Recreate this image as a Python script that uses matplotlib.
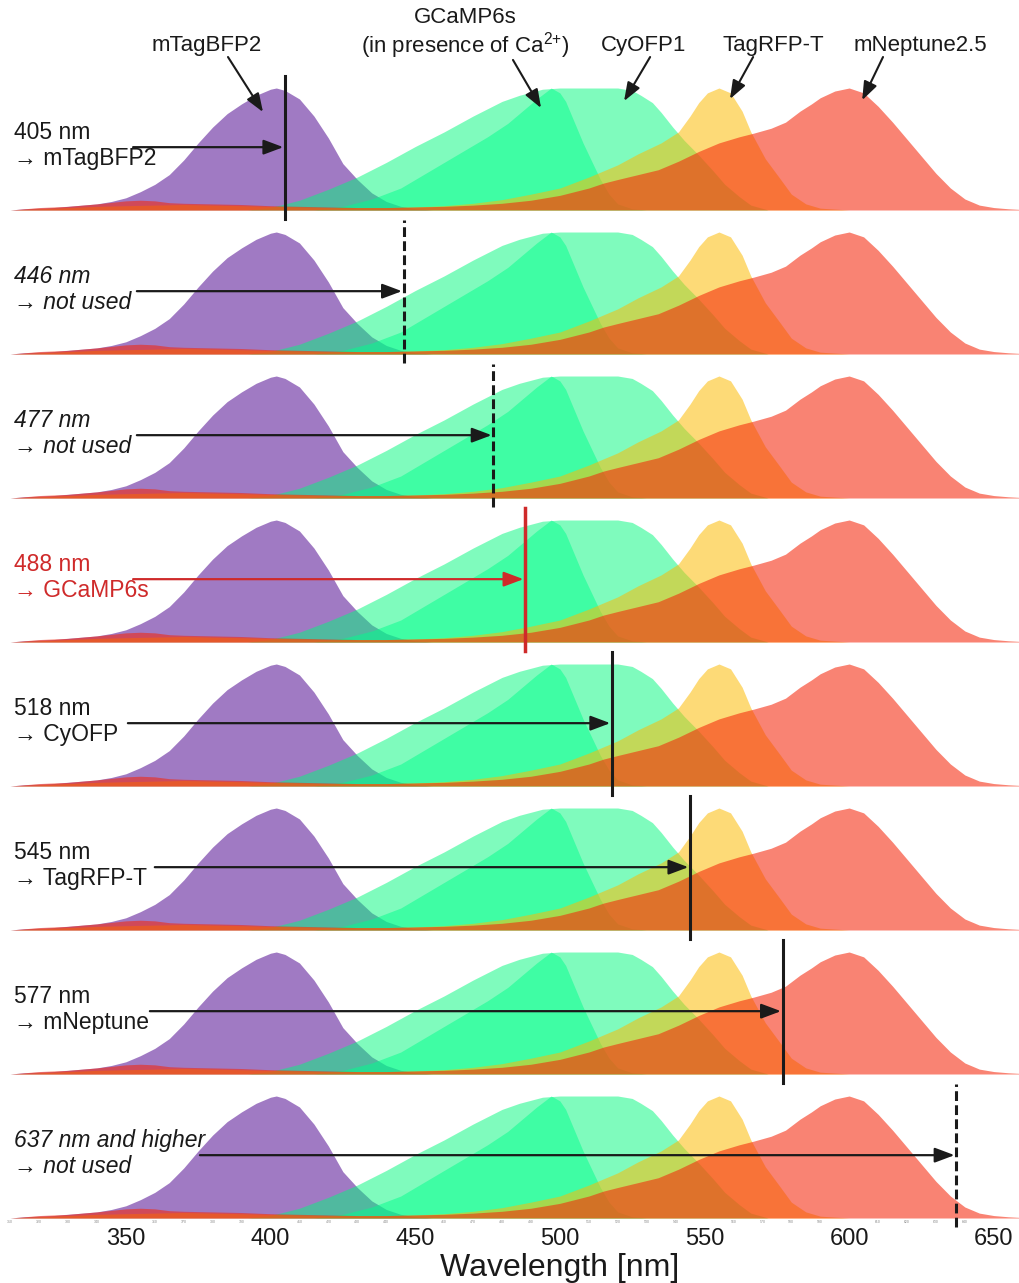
import numpy as np
import matplotlib.pyplot as plt

plt.rcParams['font.family'] = ['Liberation Sans', 'DejaVu Sans']
plt.rcParams['mathtext.fontset'] = 'custom'
plt.rcParams['mathtext.rm'] = 'Liberation Sans'

# excitation spectra, each normalised to its own peak
bfp_nm = [310, 315, 320, 325, 330, 335, 340, 345, 350, 355, 360, 365, 370, 375, 380,
          385, 390, 395, 400, 402, 405, 410, 415, 420, 425, 430, 435, 440, 445, 450, 456]
bfp_ex = [0, 0.01, 0.015, 0.02, 0.03, 0.04, 0.05, 0.07, 0.10, 0.15, 0.21, 0.29, 0.41, 0.55, 0.68,
          0.79, 0.87, 0.94, 0.99, 1.0, 0.98, 0.91, 0.77, 0.59, 0.38, 0.25, 0.14, 0.07, 0.03, 0.01, 0]

cyofp_nm = [392, 400, 410, 420, 430, 440, 450, 460, 470, 480, 486, 494, 500, 510, 520, 525,
            528, 532, 535, 539, 543, 548, 553, 557, 562, 566, 572]
cyofp_ex = [0, 0.02, 0.08, 0.17, 0.27, 0.39, 0.52, 0.64, 0.77, 0.89, 0.94, 0.99, 1.0, 1.0, 1.0, 0.98,
            0.94, 0.88, 0.80, 0.68, 0.57, 0.45, 0.32, 0.21, 0.11, 0.04, 0]

gcamp_nm = [415, 425, 435, 445, 455, 465, 475, 482, 487, 492, 497, 500, 502, 505, 508, 511,
            514, 517, 520, 525, 530]
gcamp_ex = [0, 0.03, 0.09, 0.18, 0.32, 0.46, 0.60, 0.71, 0.81, 0.91, 1.0, 0.96, 0.89, 0.72, 0.55,
            0.40, 0.25, 0.13, 0.05, 0.01, 0]

tagrfp_nm = [310, 320, 330, 340, 350, 360, 370, 380, 390, 400, 410, 420, 430, 440, 450, 460, 470,
             480, 490, 500, 510, 520, 527, 535, 541, 545, 548, 551, 555, 559, 563, 566, 571, 576,
             580, 585, 590, 600]
tagrfp_ex = [0, 0.01, 0.02, 0.03, 0.035, 0.04, 0.045, 0.04, 0.035, 0.03, 0.025, 0.02, 0.02, 0.02,
             0.025, 0.035, 0.055, 0.085, 0.13, 0.18, 0.27, 0.37, 0.46, 0.55, 0.64, 0.77, 0.88, 0.96,
             1.0, 0.96, 0.81, 0.64, 0.42, 0.26, 0.13, 0.05, 0.015, 0]

nept_nm = [310, 315, 320, 330, 340, 350, 355, 360, 365, 370, 380, 390, 400, 410, 420, 430, 440,
           450, 460, 470, 480, 490, 500, 505, 510, 515, 520, 527, 534, 541, 548, 555, 562, 567,
           573, 578, 583, 587, 590, 595, 600, 605, 610, 615, 620, 625, 630, 635, 640, 645, 650,
           655, 659]
nept_ex = [0, 0.01, 0.02, 0.03, 0.05, 0.075, 0.08, 0.075, 0.06, 0.055, 0.05, 0.045, 0.035, 0.03,
           0.025, 0.02, 0.02, 0.025, 0.03, 0.04, 0.055, 0.08, 0.12, 0.15, 0.18, 0.22, 0.25, 0.29,
           0.33, 0.40, 0.48, 0.55, 0.60, 0.63, 0.67, 0.72, 0.81, 0.87, 0.92, 0.975, 1.0, 0.96, 0.85,
           0.72, 0.58, 0.44, 0.30, 0.18, 0.09, 0.04, 0.02, 0.01, 0.005]

# drawing order matters: later layers tint the ones underneath
spectra = [
    (bfp_nm, bfp_ex, '#a07ac3', 1.0),
    (cyofp_nm, cyofp_ex, '#01f97d', 0.5),
    (gcamp_nm, gcamp_ex, '#00ff8c', 0.5),
    (tagrfp_nm, tagrfp_ex, '#fcbb05', 0.54),
    (nept_nm, nept_ex, '#f52509', 0.57),
]

laser_nm = [405, 446, 477, 488, 518, 545, 577, 637]
laser_line1 = ['405 nm', '446 nm', '477 nm', '488 nm', '518 nm', '545 nm', '577 nm',
               '637 nm and higher']
laser_line2 = ['→ mTagBFP2', '→ not used', '→ not used', '→ GCaMP6s', '→ CyOFP',
               '→ TagRFP-T', '→ mNeptune', '→ not used']
laser_used = [True, False, False, True, True, True, True, False]
laser_highlight = 3
arrow_from = [352.5, 353.8, 353.8, 352.5, 350.7, 360.0, 358.3, 375.6]

peak_labels = ['mTagBFP2', r'(in presence of Ca$^{2{+}}$)', 'CyOFP1', 'TagRFP-T', 'mNeptune2.5']
peak_label_x = [378.1, 467.2, 529.1, 573.7, 624.5]
peak_arrow_tail = [(385.3, 1.254), (483.8, 1.23), (531.2, 1.254), (566.8, 1.254), (611.7, 1.254)]
peak_arrow_head = [(397.4, 0.803), (493.5, 0.836), (522.2, 0.893), (558.8, 0.91), (604.5, 0.90)]

W, H = 1019, 1283
XMIN, XMAX = 306.5, 658.7
PX_PER_UNIT = 122
YMIN, YMAX = -0.12, 1.16

fig = plt.figure(figsize=(W / 100, H / 100), dpi=100)
fig.patch.set_facecolor('white')

red = '#cf2a2a'
ink = '#1a1a1a'
axes = []
for i, nm in enumerate(laser_nm):
    base_px = 210 + 144 * i
    bottom_px = base_px - YMIN * PX_PER_UNIT
    height_px = (YMAX - YMIN) * PX_PER_UNIT
    ax = fig.add_axes([0, 1 - bottom_px / H, 1, height_px / H])
    ax.patch.set_alpha(0)
    ax.set_xlim(XMIN, XMAX)
    ax.set_ylim(YMIN, YMAX)
    axes.append(ax)

    for wl, ex, col, a in spectra:
        ax.fill_between(wl, 0, ex, color=col, alpha=a, lw=0)

    col = red if i == laser_highlight else ink
    style = 'normal' if laser_used[i] else 'italic'
    lw = 2.5 if i == laser_highlight else 2.2
    ls = '-' if laser_used[i] else (0, (3.2, 1.4))
    ax.plot([nm, nm], [-0.07, 1.1], color=col, lw=lw, ls=ls, clip_on=False, zorder=5)
    ax.annotate('', xy=(nm, 0.515), xytext=(arrow_from[i], 0.515),
                arrowprops=dict(arrowstyle='-|>,head_length=0.8,head_width=0.3',
                                color=col, lw=1.6, mutation_scale=15,
                                shrinkA=0, shrinkB=1.2), zorder=6)
    ax.text(311.3, 0.635, laser_line1[i], color=col, fontsize=16.5, style=style,
            ha='left', va='center')
    ax.text(311.3, 0.425, laser_line2[i], color=col, fontsize=16.5, style=style,
            ha='left', va='center')

    for s in ax.spines.values():
        s.set_visible(False)
    ax.set_yticks([])
    if i < len(laser_nm) - 1:
        ax.set_xticks([])

# labels with arrows pointing to each protein's peak
top = axes[0]
for txt, x in zip(peak_labels, peak_label_x):
    top.text(x, 1.352, txt, fontsize=16, color=ink, ha='center', va='center')
top.text(peak_label_x[1], 1.574, 'GCaMP6s', fontsize=16, color=ink, ha='center', va='center')
for tail, head in zip(peak_arrow_tail, peak_arrow_head):
    top.annotate('', xy=head, xytext=tail,
                 arrowprops=dict(arrowstyle='-|>,head_length=0.8,head_width=0.3',
                                 color=ink, lw=1.5, mutation_scale=14,
                                 shrinkA=0, shrinkB=0), zorder=6)

# wavelength axis on the lowest panel
bot = axes[-1]
bot.set_xticks(np.arange(350, 651, 50))
bot.set_xticks(np.arange(310, 651, 10), minor=True)
bot.set_xticklabels([str(v) for v in range(350, 651, 50)], fontsize=17, color=ink)
bot.set_xticklabels([str(v) for v in range(310, 651, 10)], minor=True, fontsize=2.5,
                    color='#888888')
bot.tick_params(axis='x', which='major', length=0, pad=-3.5)
bot.tick_params(axis='x', which='minor', length=0, pad=-9)
bot.set_xlabel('Wavelength [nm]', fontsize=23, color=ink)
bot.xaxis.set_label_coords((500 - XMIN) / (XMAX - XMIN), -0.13)

fig.savefig('out.png', dpi=100, facecolor='white')
